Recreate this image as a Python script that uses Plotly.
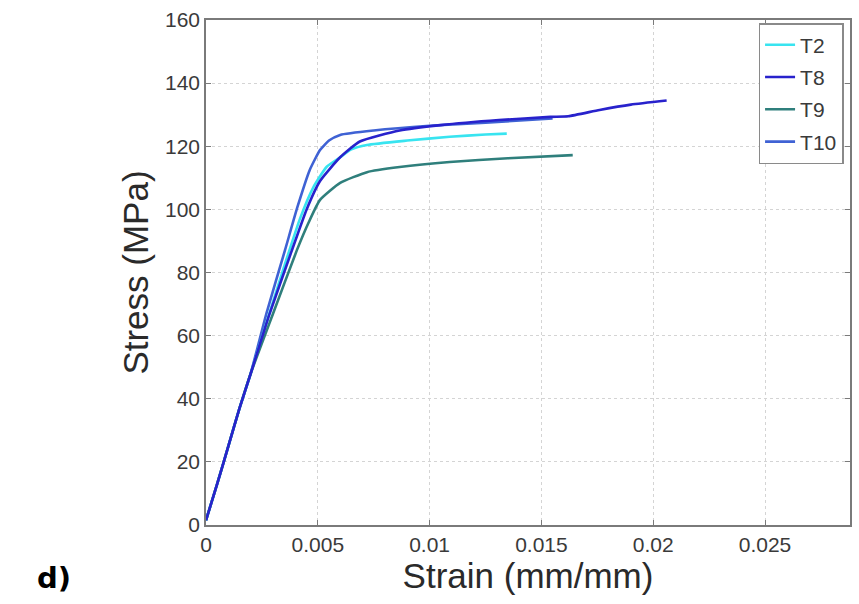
import plotly.graph_objects as go

# ---- data ----
t2_strain = [0, 0.0005, 0.001, 0.0015, 0.002, 0.0027, 0.0035, 0.0042, 0.0048, 0.0054, 0.006, 0.0065, 0.0072, 0.009, 0.0109, 0.0125, 0.01345]
t2_stress = [1.5, 13, 25, 37, 48, 64, 82, 97, 107, 113.5, 116.5, 119, 120.4, 121.8, 123, 123.7, 124]

t8_strain = [0, 0.0005, 0.001, 0.0015, 0.002, 0.0028, 0.00384, 0.0045, 0.0051, 0.006, 0.00688, 0.00866, 0.0105, 0.0131, 0.0154, 0.0162, 0.0176, 0.019, 0.0206]
t8_stress = [1.5, 13, 25, 37, 48, 66, 87, 100, 109, 116.5, 121.5, 125, 126.7, 128.3, 129.3, 129.5, 131.5, 133.2, 134.5]

t9_strain = [0, 0.0005, 0.001, 0.0015, 0.002, 0.003, 0.00406, 0.0046, 0.0051, 0.006, 0.0072, 0.00866, 0.0109, 0.0135, 0.0164]
t9_stress = [1.5, 13, 25, 37, 48, 67, 87, 96, 103, 108.4, 111.8, 113.4, 115, 116.2, 117.2]

t10_strain = [0, 0.0005, 0.001, 0.0015, 0.002, 0.0027, 0.00353, 0.0041, 0.00464, 0.0051, 0.0055, 0.006, 0.0075, 0.01, 0.0125, 0.0155]
t10_stress = [1.5, 13, 25, 37, 48, 67, 87, 101, 112.5, 118.8, 121.8, 123.6, 125, 126.5, 127.5, 128.8]

series_names = ["T2", "T8", "T9", "T10"]
x_ticks = [0, 0.005, 0.01, 0.015, 0.02, 0.025]
x_tick_labels = ["0", "0.005", "0.01", "0.015", "0.02", "0.025"]
y_ticks = [0, 20, 40, 60, 80, 100, 120, 140, 160]

colors = {"T2": "#38e4f0", "T8": "#2822cc", "T9": "#2f7f7c", "T10": "#3f62d4"}
data = {"T2": (t2_strain, t2_stress), "T8": (t8_strain, t8_stress),
        "T9": (t9_strain, t9_stress), "T10": (t10_strain, t10_stress)}
rank = {"T2": 1, "T8": 2, "T9": 3, "T10": 4}

fig = go.Figure()
for name in ["T10", "T2", "T9", "T8"]:
    xs, ys = data[name]
    fig.add_trace(go.Scatter(x=xs, y=ys, mode="lines", name=name, legendgroup=name,
                             line=dict(color=colors[name], width=2.6, shape="spline", smoothing=0.5),
                             legendrank=rank[name]))

font_family = "Liberation Sans, Arial"
axis_common = dict(showline=True, linecolor="#7a7a7a", linewidth=1.5, mirror="ticks",
                   ticks="inside", ticklen=5, tickcolor="#7a7a7a",
                   showgrid=True, gridcolor="#d4d4d4", griddash="dot", gridwidth=1,
                   zeroline=False, tickfont=dict(family=font_family, size=21, color="#3a3a3a"))

fig.update_xaxes(range=[0, 0.0288], tickvals=x_ticks, ticktext=x_tick_labels,
                 title=dict(text="Strain (mm/mm)", font=dict(family=font_family, size=35, color="#2a2a2a"), standoff=2),
                 **axis_common)
fig.update_yaxes(range=[0, 160], tickvals=y_ticks,
                 title=dict(text="Stress (MPa)", font=dict(family=font_family, size=35, color="#2a2a2a"), standoff=6),
                 **axis_common)

fig.add_annotation(text="<b>d)</b>", xref="paper", yref="paper", x=-0.265, y=-0.105,
                   xanchor="left", yanchor="middle", showarrow=False,
                   font=dict(family="DejaVu Sans", size=29, color="#000000"))

fig.update_layout(
    width=859, height=604,
    margin=dict(l=206, r=7, t=20, b=79),
    paper_bgcolor="white", plot_bgcolor="white",
    showlegend=True,
    legend=dict(x=0.99, y=0.994, xanchor="right", yanchor="top",
                bgcolor="white", bordercolor="#8a8a8a", borderwidth=1.5,
                font=dict(family=font_family, size=21, color="#3a3a3a"),
                tracegroupgap=2),
)

fig.write_html("out.html")
